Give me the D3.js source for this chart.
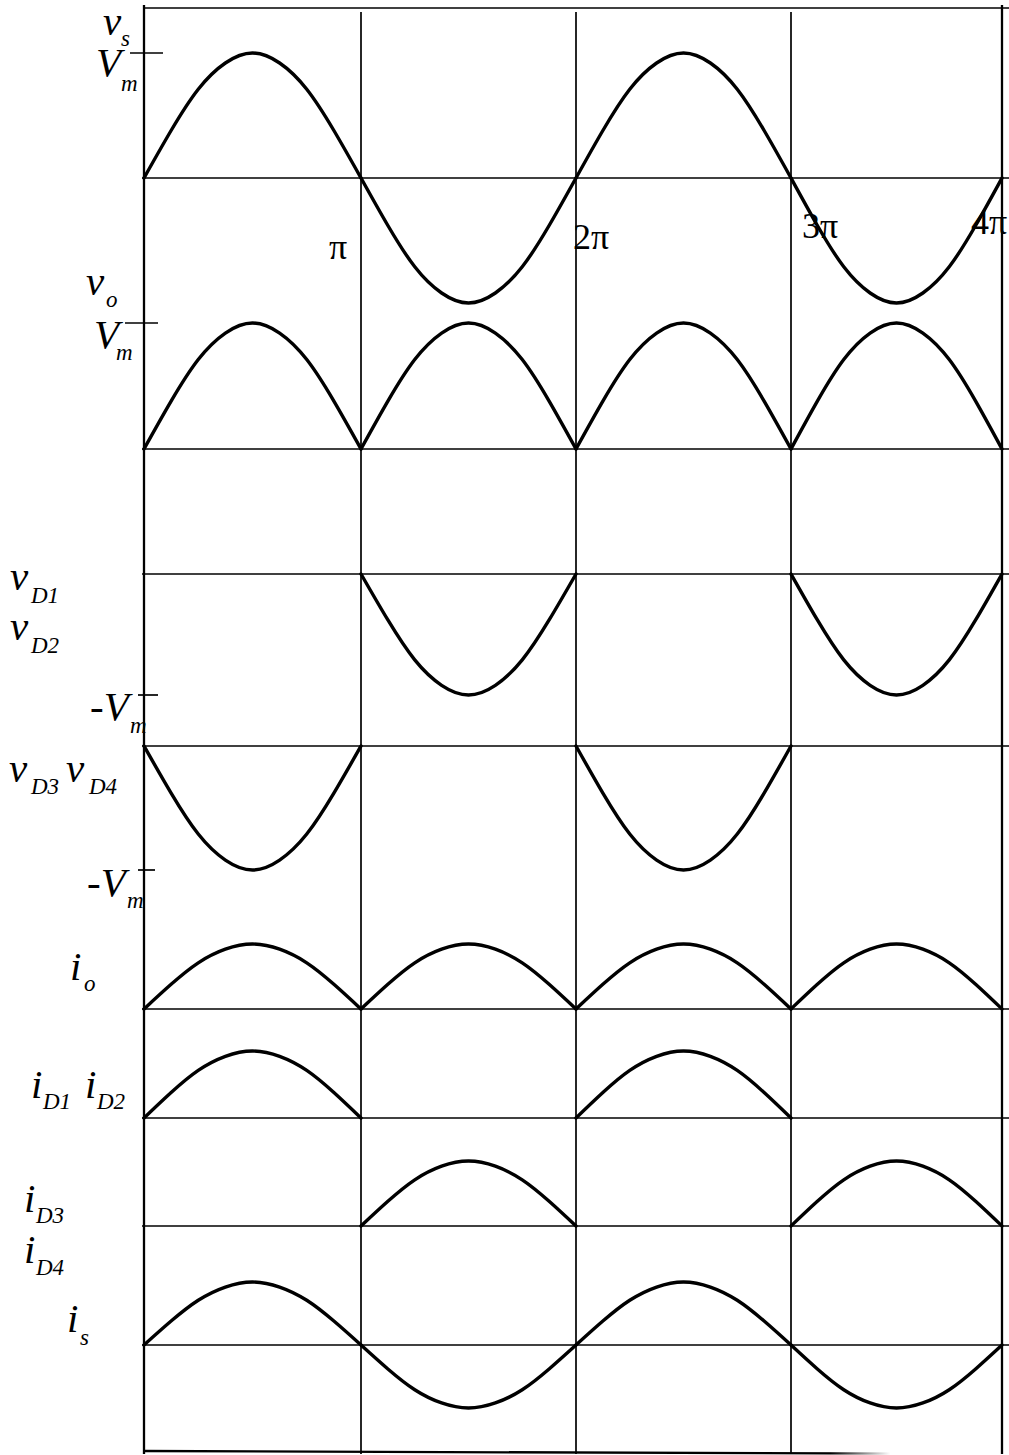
<!DOCTYPE html>
<html>
<head>
<meta charset="utf-8">
<script src="https://cdn.jsdelivr.net/npm/d3@7"></script>
<style>
  html, body { margin: 0; padding: 0; background: #fff; }
  svg { display: block; }
  .grid { stroke: #000; stroke-width: 1.7; fill: none; }
  .border { stroke: #000; stroke-width: 2.3; fill: none; }
  .wave { stroke: #000; stroke-width: 3.4; fill: none; stroke-linejoin: round; stroke-linecap: round; }
  .tick { stroke: #000; stroke-width: 1.7; }
  .lbl { font-family: "Liberation Serif", "Times New Roman", serif; font-style: italic; fill: #000; }
  .main { font-size: 41px; }
  .sub { font-size: 23px; }
  .pi { font-family: "Liberation Serif", "Times New Roman", serif; font-size: 36px; fill: #000; }
</style>
</head>
<body>
<svg id="chart" width="1009" height="1455"></svg>
<script>
// x axis in multiples of pi
const cycles = [0, 1, 2, 3, 4];
const piLabels = ["", "π", "2π", "3π", "4π"];

const phase = [0, 0.125, 0.25, 0.375, 0.5, 0.625, 0.75, 0.875, 1];
const halfWave = [0, 0.38, 0.71, 0.92, 1, 0.92, 0.71, 0.38, 0];

// sign of each half-cycle per trace (0 = not drawn)
const vsHalves = [1, -1, 1, -1];
const voHalves = [1, 1, 1, 1];
const vD12Halves = [0, -1, 0, -1];
const vD34Halves = [-1, 0, -1, 0];
const ioHalves = [1, 1, 1, 1];
const iD12Halves = [1, 0, 1, 0];
const iD34Halves = [0, 1, 0, 1];
const isHalves = [1, -1, 1, -1];

const svg = d3.select("#chart");

// piecewise scale: the drawn grid is not perfectly even
const x = d3.scaleLinear().domain(cycles).range([144, 361, 576, 791, 1002]);

// panel layout: zero line and peak height in px
const panels = [
  { halves: vsHalves, base: 178, amp: 125, tick: 1, tickX: [130, 163] },
  { halves: voHalves, base: 449, amp: 126, tick: 1, tickX: [125, 158] },
  { halves: vD12Halves, base: 574, amp: 121, tick: -1, tickX: [138, 158] },
  { halves: vD34Halves, base: 746, amp: 124, tick: -1, tickX: [138, 155] },
  { halves: ioHalves, base: 1009, amp: 65 },
  { halves: iD12Halves, base: 1118, amp: 67 },
  { halves: iD34Halves, base: 1226, amp: 65 },
  { halves: isHalves, base: 1345, amp: 63 },
];

const frameTop = 8;
const frameBottom = 1452;

// --- grid ---
const grid = svg.append("g");

grid.append("line").attr("class", "grid")
  .attr("x1", x(0)).attr("x2", 1009).attr("y1", frameTop).attr("y2", frameTop);

panels.forEach((p) => {
  grid.append("line").attr("class", "grid")
    .attr("x1", x(0) - 2).attr("x2", 1009)
    .attr("y1", p.base).attr("y2", p.base);
});

// bottom edge fades out toward the right, as in the scan
const grad = svg.append("defs").append("linearGradient")
  .attr("id", "fade").attr("gradientUnits", "userSpaceOnUse")
  .attr("x1", x(0)).attr("x2", x(4)).attr("y1", 0).attr("y2", 0);
grad.append("stop").attr("offset", 0.8).attr("stop-color", "#000");
grad.append("stop").attr("offset", 0.87).attr("stop-color", "#fff");
grid.append("line")
  .attr("x1", x(0)).attr("x2", x(4))
  .attr("y1", frameBottom - 1).attr("y2", frameBottom + 2)
  .attr("stroke", "url(#fade)").attr("stroke-width", 2.3);

cycles.forEach((c) => {
  const edge = c === 0 || c === 4;
  grid.append("line").attr("class", edge ? "border" : "grid")
    .attr("x1", x(c)).attr("x2", x(c))
    .attr("y1", edge ? frameTop - 3 : frameTop + 4).attr("y2", frameBottom + 2);
});

// --- waveforms ---
const waves = svg.append("g");

panels.forEach((p) => {
  const y = d3.scaleLinear().domain([0, 1]).range([p.base, p.base - p.amp]);
  const line = d3.line()
    .x((d) => x(d[0]))
    .y((d) => y(d[1]))
    .curve(d3.curveNatural);
  p.halves.forEach((sign, n) => {
    if (sign === 0) return;
    const pts = phase.map((ph, k) => [n + ph, sign * halfWave[k]]);
    waves.append("path").attr("class", "wave").attr("d", line(pts));
  });
  if (p.tick) {
    svg.append("line").attr("class", "tick")
      .attr("x1", p.tickX[0]).attr("x2", p.tickX[1])
      .attr("y1", y(p.tick)).attr("y2", y(p.tick));
  }
});

// --- pi labels ---
const piPos = [null, [329, 259], [573, 249], [802, 238], [971, 234]];
piLabels.forEach((t, i) => {
  if (!t) return;
  svg.append("text").attr("class", "pi")
    .attr("x", piPos[i][0]).attr("y", piPos[i][1]).text(t);
});

// --- trace labels: [text, x, baseline, main|sub] ---
const labels = [
  ["v", 103, 35, "main"], ["s", 121, 46, "sub"],
  ["V", 96, 76, "main"], ["m", 121, 91, "sub"],
  ["v", 86, 295, "main"], ["o", 106, 307, "sub"],
  ["V", 94, 348, "main"], ["m", 116, 360, "sub"],
  ["v", 10, 590, "main"], ["D1", 31, 603, "sub"],
  ["v", 10, 640, "main"], ["D2", 31, 653, "sub"],
  ["-V", 90, 720, "main"], ["m", 130, 733, "sub"],
  ["v", 9, 782, "main"], ["D3", 31, 794, "sub"],
  ["v", 66, 782, "main"], ["D4", 89, 794, "sub"],
  ["-V", 87, 896, "main"], ["m", 127, 908, "sub"],
  ["i", 70, 980, "main"], ["o", 84, 991, "sub"],
  ["i", 31, 1098, "main"], ["D1", 43, 1109, "sub"],
  ["i", 85, 1098, "main"], ["D2", 97, 1109, "sub"],
  ["i", 24, 1212, "main"], ["D3", 36, 1223, "sub"],
  ["i", 24, 1263, "main"], ["D4", 36, 1275, "sub"],
  ["i", 67, 1332, "main"], ["s", 80, 1345, "sub"],
];

svg.append("g").selectAll("text").data(labels).join("text")
  .attr("class", (d) => "lbl " + d[3])
  .attr("x", (d) => d[1])
  .attr("y", (d) => d[2])
  .text((d) => d[0]);
</script>
</body>
</html>
